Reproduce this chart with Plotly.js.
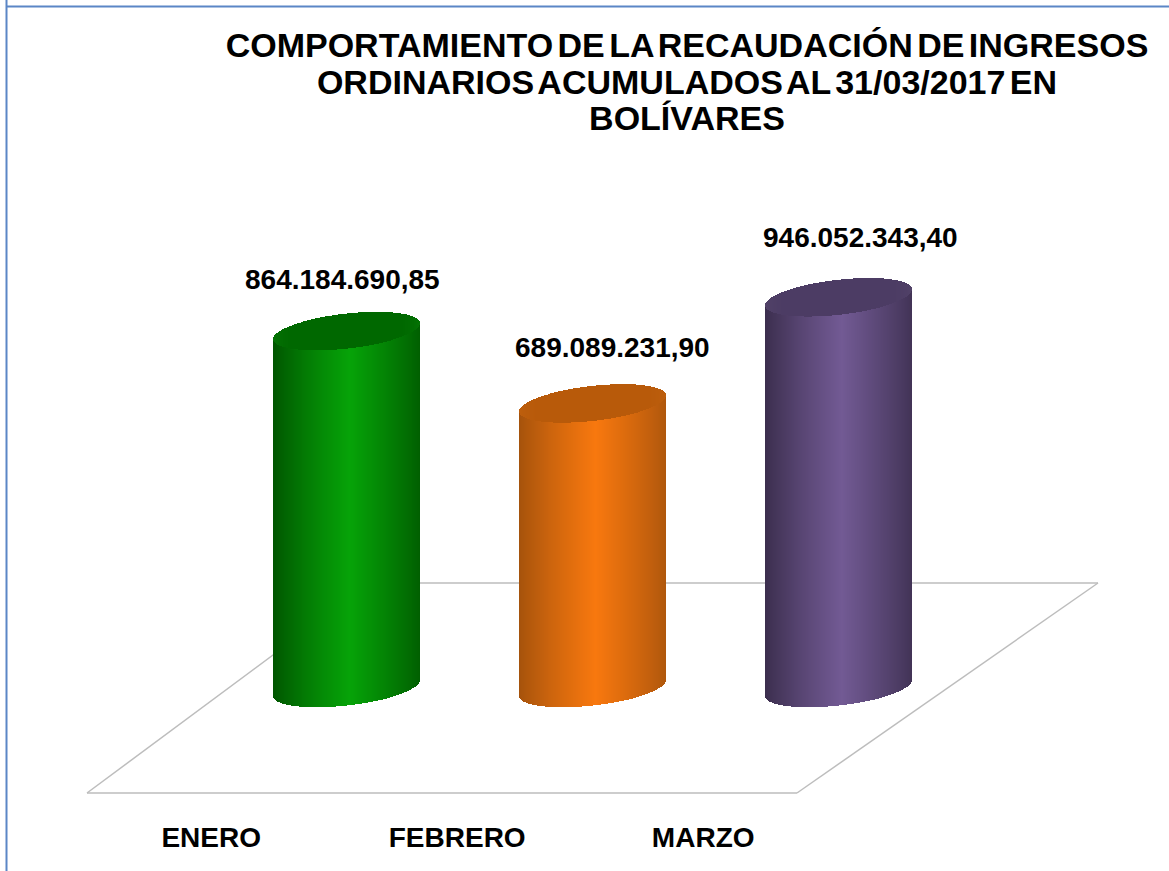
<!DOCTYPE html>
<html>
<head>
<meta charset="utf-8">
<script src="https://cdn.plot.ly/plotly-3.0.1.min.js"></script>
<style>
html,body{margin:0;padding:0;background:#fff;overflow:hidden}
#chart{width:1169px;height:871px}
.gtitle{word-spacing:-5px}
</style>
</head>
<body>
<div id="chart"></div>
<script>
const categories = ["ENERO", "FEBRERO", "MARZO"];
const values = [864184690.85, 689089231.90, 946052343.40];
const valueLabels = ["864.184.690,85", "689.089.231,90", "946.052.343,40"];
const bodyEdge = ["#005400", "#a4520c", "#3a2d4c"];
const bodyMid = ["#06a308", "#f8780e", "#725a94"];
const capEdge = ["#067606", "#bf600e", "#534469"];
const capMid = ["#006800", "#b85a0a", "#4c3c64"];
const titleText = "COMPORTAMIENTO DE LA RECAUDACIÓN DE INGRESOS<br>ORDINARIOS ACUMULADOS AL 31/03/2017 EN<br>BOLÍVARES";

const W = 1169, H = 871, plotH = 818;
const pxPerCat = 246, originX = 346.5, baseY = 688, pxPerUnit = 0.413 / 1e6;
const radiusPx = 73.5, capPx = 17.5, tiltPx = 8, strips = 148;
const dataX = px => (px - originX) / pxPerCat;
const dataH = px => px / pxPerUnit;

function hex(c){return [1,3,5].map(i=>parseInt(c.substr(i,2),16));}
function mix(a,b,t){
  const A=hex(a),B=hex(b);
  return "rgb("+A.map((v,i)=>Math.round(v+(B[i]-v)*t)).join(",")+")";
}

const barX=[], barY=[], barBase=[], barColor=[];
const capX=[], capY=[], capBase=[], capColor=[];
values.forEach((v,k)=>{
  for(let s=0;s<strips;s++){
    const u = -1 + 2*(s+0.5)/strips;
    const half = Math.sqrt(1-u*u);
    const lower = dataH(-capPx*half + tiltPx*u);
    const x = k + u*radiusPx/pxPerCat;
    const shade = Math.pow(Math.max(0,1-Math.abs(u-0.05)/1.05),0.85);
    barX.push(x); barY.push(v); barBase.push(lower);
    barColor.push(mix(bodyEdge[k],bodyMid[k],shade));
    capX.push(x); capY.push(dataH(2*capPx*half)); capBase.push(v+lower);
    capColor.push(mix(capEdge[k],capMid[k],Math.min(1,half*1.5)));
  }
});

const stripWidth = 1.6/pxPerCat;
const traces = [
  {type:"bar",x:barX,y:barY,base:barBase,width:stripWidth,marker:{color:barColor,line:{width:0}},hoverinfo:"skip",showlegend:false},
  {type:"bar",x:capX,y:capY,base:capBase,width:stripWidth,marker:{color:capColor,line:{width:0}},hoverinfo:"skip",showlegend:false}
];

const px = x => x/W, py = y => 1-y/plotH;
const floorStyle = {color:"#bdbdbd",width:1.5};
const seg=(x0,y0,x1,y1)=>({type:"line",xref:"paper",yref:"paper",x0:px(x0),y0:py(y0),x1:px(x1),y1:py(y1),line:floorStyle,layer:"below"});
const frameStyle = {color:"#5b86c6",width:2};
const frame=(x0,y0,x1,y1)=>({type:"line",xref:"paper",yref:"paper",x0:px(x0),y0:py(y0),x1:px(x1),y1:py(y1),line:frameStyle,layer:"below"});

const labelShift = [[-4,52],[20,56],[22,60]];
const layout = {
  width:W,height:H,
  margin:{l:0,r:0,t:0,b:H-plotH,pad:0},
  paper_bgcolor:"#fff",plot_bgcolor:"#fff",
  barmode:"overlay",bargap:0,
  showlegend:false,
  title:{text:titleText,x:687/W,xanchor:"center",xref:"paper",y:1-28/H,yanchor:"top",yref:"container",
    font:{family:"Liberation Sans",size:34,color:"#000",weight:700}},
  xaxis:{range:[dataX(0),dataX(W)],showgrid:false,zeroline:false,showline:false,ticks:"",
    tickmode:"array",tickvals:categories.map((c,i)=>i-0.55),ticktext:categories,
    tickfont:{family:"Liberation Sans",size:28,color:"#000",weight:700},fixedrange:true},
  yaxis:{range:[dataH(baseY-plotH),dataH(baseY)],visible:false,fixedrange:true},
  shapes:[
    seg(87,793,797,793),seg(797,793,1098,583),seg(1098,583,370,583),seg(370,583,87,793),
    frame(6.5,0,6.5,H),frame(6,6.5,W,6.5)
  ],
  annotations:values.map((v,i)=>({x:i,y:v,xref:"x",yref:"y",text:valueLabels[i],showarrow:false,
    xshift:labelShift[i][0],yshift:labelShift[i][1],xanchor:"center",yanchor:"middle",
    font:{family:"Liberation Sans",size:28,color:"#000",weight:700}}))
};
const titleBaselines = [57, 93.5, 130];
Plotly.newPlot("chart",traces,layout,{displayModeBar:false,staticPlot:true}).then(()=>{
  document.querySelectorAll(".gtitle tspan.line").forEach((t,i)=>{
    t.setAttribute("dy","0");
    t.setAttribute("y",titleBaselines[i]);
  });
});
</script>
</body>
</html>
